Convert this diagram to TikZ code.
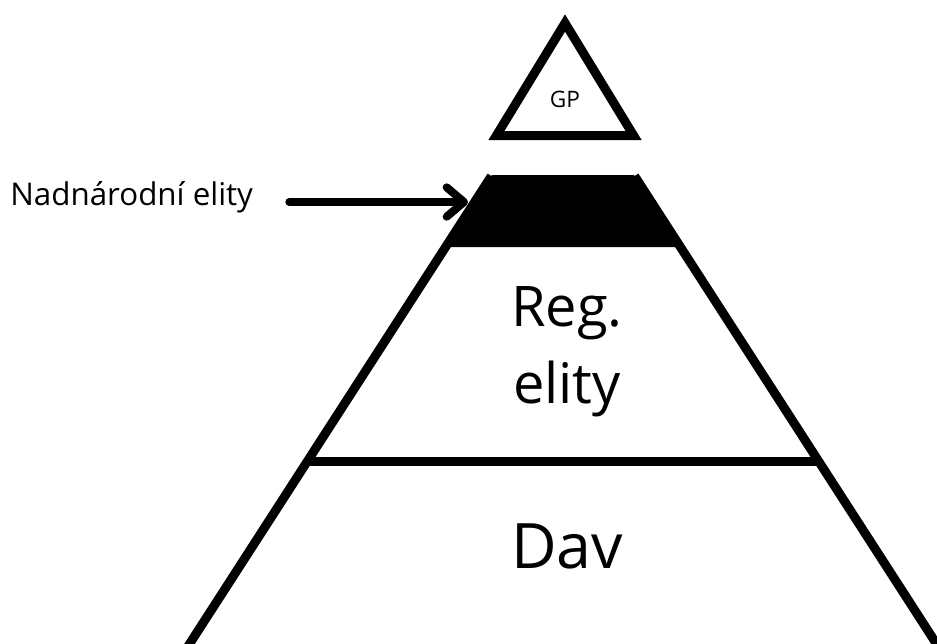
\documentclass[tikz,border=0pt]{standalone}
\usepackage{fontspec}
\setmainfont{Open Sans}
\usetikzlibrary{arrows.meta}

\tikzset{
  edge/.style={line width=6.75pt, line join=miter},
  layer/.style={align=center, inner sep=0pt},
  pointer/.style={line width=6pt, line cap=round,
    -{Straight Barb[length=13pt,width=22pt,round]}},
}

\begin{document}
\begin{tikzpicture}[x=0.75pt,y=-0.75pt]
  \useasboundingbox (0,0) rectangle (937,643);
  % top triangle
  \draw[edge] (565,23) -- (633.6,135.5) -- (496.4,135.5) -- cycle;
  \node[font=\fontsize{17}{20}\selectfont, anchor=base] (gp) at (565,107) {GP};
  % black band
  \fill (492,175) -- (634,175) -- (680.4,247) -- (445.6,247) -- cycle;
  % main pyramid
  \draw[edge] (491.4,176) -- (185.6,650) -- (940.4,650) -- (634.6,176);
  \draw[edge] (307.5,461) -- (818.5,461);
  \node[layer, font=\fontsize{42}{58}\selectfont] (reg) at (567,352) {Reg.\\elity};
  \node[layer, font=\fontsize{47}{56}\selectfont, anchor=base] (dav) at (567,568) {Dav};
  % label with arrow
  \node[font=\fontsize{23.5}{28}\selectfont, inner sep=0pt, anchor=base west] (lbl) at (10,205) {Nadnárodní elity};
  \coordinate (tip) at (468,202);
  \draw[pointer, shorten <=27pt] (lbl.east |- tip) -- (tip);
\end{tikzpicture}
\end{document}
